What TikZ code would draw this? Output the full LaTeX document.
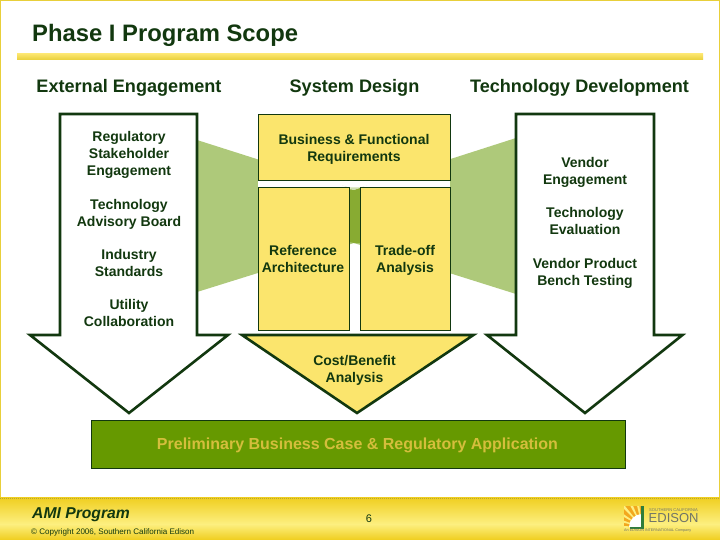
\documentclass[tikz,border=0pt]{standalone}
\usepackage{fontspec}
\setmainfont{Liberation Sans}
\definecolor{dk}{HTML}{12380F}
\definecolor{yl}{HTML}{FBE56D}
\definecolor{gold}{HTML}{E8CF3A}
\definecolor{fgold}{HTML}{EFCE1E}
\definecolor{fpale}{HTML}{FDEF80}
\definecolor{lg}{HTML}{AEC97A}
\definecolor{mg}{HTML}{88AB32}
\definecolor{bg}{HTML}{669900}
\definecolor{gt}{HTML}{D4BE3C}
\definecolor{sun}{HTML}{F2A81E}
\definecolor{lgreen}{HTML}{2F7D3A}
\definecolor{lgrey}{HTML}{6F7468}
\tikzset{
 txt/.style={text=dk,font=\fontsize{14}{17}\selectfont\bfseries,align=center,inner sep=0pt},
 hd/.style={text=dk,font=\fontsize{18.1}{20}\selectfont\bfseries,inner sep=0pt},
 yb/.style={draw=dk,fill=yl,line width=0.9pt},
 arr/.style={draw=dk,line width=2.6pt,miter limit=10,line join=miter}
}
\begin{document}
\begin{tikzpicture}[x=1pt,y=-1pt]
\useasboundingbox (0,0) rectangle (720,540);
\fill[white] (0,0) rectangle (720,540);
\draw[gold,line width=2.6pt] (0,0) rectangle (720,540);
% title
\node[anchor=west,text=dk,font=\fontsize{23.8}{26}\selectfont\bfseries,inner sep=0pt] (title) at (32,35.5) {Phase I Program Scope};
\shade[top color=yl,bottom color=gold] (17,54) rectangle (703,60);
\node[hd] (h1) at (129,88) {External Engagement};
\node[hd] (h2) at (354.5,88) {System Design};
\node[hd] (h3) at (579.5,88) {Technology Development};
% band
\fill[lg] (197,140) -- (354,190) -- (516,138) -- (516,294) -- (354,243) -- (197,292) -- cycle;
\fill[mg] (349,190) -- (354,190) -- (360,188) -- (360,243) -- (354,243) -- (349,242) -- cycle;
\fill[white] (258,180) rectangle (450,187);
\fill[lg!60!white] (330,180) -- (354,190) -- (380,180) -- cycle;
\fill[white] (325,180) -- (349,187.5) -- (360,187.5) -- (385,180) -- cycle;
% arrows
\path[arr,fill=white] (60,114) -- (197,114) -- (197,335) -- (228,335) -- (129,413) -- (30,335) -- (60,335) -- cycle;
\path[arr,fill=white] (516,114) -- (654,114) -- (654,335) -- (682.5,335) -- (585,413) -- (487,335) -- (516,335) -- cycle;
\path[arr,fill=yl] (242,335) -- (473.5,335) -- (357,413) -- cycle;
\node[txt] (cost) at (354.5,370) {Cost/Benefit\\Analysis};
% yellow boxes
\node[yb,minimum width=192pt,minimum height=66pt,anchor=north west,inner sep=0pt] (biz) at (258,114) {};
\node[txt] at (354,149.5) {Business \& Functional\\Requirements};
\node[yb,minimum width=91pt,minimum height=143pt,anchor=north west,inner sep=0pt] (ref) at (258,187) {};
\node[txt] at (303,258.5) {Reference\\Architecture};
\node[yb,minimum width=90pt,minimum height=143pt,anchor=north west,inner sep=0pt] (trade) at (360,187) {};
\node[txt] at (405,260.5) {Trade-off\\Analysis};
% left texts
\node[txt] (l1) at (129,155) {Regulatory\\Stakeholder\\Engagement};
\node[txt] (l2) at (129,214) {Technology\\Advisory Board};
\node[txt] (l3) at (129,263) {Industry\\Standards};
\node[txt] (l4) at (129,313) {Utility\\Collaboration};
% right texts
\node[txt] (r1) at (585,172.5) {Vendor\\Engagement};
\node[txt] (r2) at (585,221) {Technology\\Evaluation};
\node[txt] (r3) at (585,273.5) {Vendor Product\\Bench Testing};
% green
\node[draw=dk,fill=bg,line width=0.9pt,minimum width=534pt,minimum height=48pt,anchor=north west,inner sep=0pt] (pre) at (90.5,420) {};
\node[text=gt,font=\fontsize{16}{18}\selectfont\bfseries,inner sep=0pt] at (357.5,445) {Preliminary Business Case \& Regulatory Application};
% footer
\shade[top color=fgold,bottom color=fpale] (0,497) rectangle (720,524);
\shade[top color=fpale,bottom color=fgold] (0,524) rectangle (720,540);
\draw[gold!80!black,line width=1pt,densely dotted] (0,498) -- (720,498);
\node[anchor=west,text=dk,font=\fontsize{15.7}{17}\selectfont\bfseries\itshape,inner sep=0pt] (ami) at (32,514.5) {AMI Program};
\node[anchor=west,text=dk,font=\fontsize{8.05}{10}\selectfont,inner sep=0pt] (copy) at (31,532) {© Copyright 2006, Southern California Edison};
\node[text=dk,font=\fontsize{11}{12}\selectfont,inner sep=0pt] (num) at (369,518.5) {6};
% logo
\begin{scope}
\clip (624,506) rectangle (642,527);
\fill[sun] (624,506) rectangle (642,527);
\foreach \a in {100,116,...,180}{
  \fill[fpale] (642,527) -- +(\a-3:30pt) -- +(\a+3:30pt) -- cycle;}
\fill[white] (642,527) -- +(180:13pt) arc[start angle=180,end angle=90,radius=13pt] -- cycle;
\end{scope}
\fill[lgreen] (641,506) rectangle (643.5,529);
\fill[lgreen] (630,526.5) rectangle (643.5,529);
\node[anchor=west,text=lgrey,font=\fontsize{4.1}{5}\selectfont,inner sep=0pt] (sce) at (649,510) {SOUTHERN CALIFORNIA};
\node[anchor=west,text=lgrey,font=\fontsize{13}{14}\selectfont,inner sep=0pt] (ed) at (648.5,518.5) {EDISON};
\node[anchor=west,text=lgrey,font=\fontsize{3.7}{4}\selectfont,inner sep=0pt] (co) at (624,531) {An EDISON INTERNATIONAL Company};
\end{tikzpicture}
\end{document}
